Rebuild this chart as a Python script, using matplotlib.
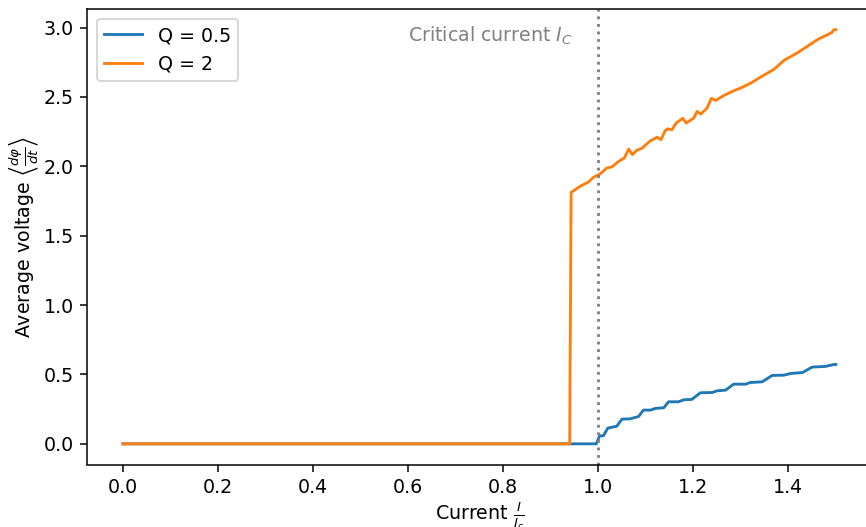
import matplotlib
matplotlib.use("Agg")
import matplotlib.pyplot as plt

# Q = 0.5 series
x_q05 = [0.0, 0.996, 1.003, 1.011, 1.02, 1.039, 1.05, 1.067, 1.085, 1.095, 1.11, 1.12,
         1.138, 1.148, 1.169, 1.18, 1.197, 1.215, 1.24, 1.25, 1.268, 1.285, 1.31, 1.32,
         1.345, 1.366, 1.391, 1.405, 1.43, 1.45, 1.478, 1.496, 1.5]
y_q05 = [0.0, 0.0, 0.058, 0.058, 0.113, 0.127, 0.178, 0.18, 0.197, 0.243, 0.243, 0.255,
         0.26, 0.303, 0.303, 0.317, 0.32, 0.368, 0.37, 0.382, 0.387, 0.43, 0.43, 0.442,
         0.447, 0.493, 0.495, 0.507, 0.514, 0.553, 0.558, 0.572, 0.572]

# Q = 2 series
x_q2 = [0.0, 0.94, 0.943, 0.962, 0.98, 0.99, 1.004, 1.018, 1.029, 1.043, 1.055, 1.064,
        1.072, 1.081, 1.092, 1.108, 1.124, 1.132, 1.141, 1.146, 1.155, 1.164, 1.178,
        1.185, 1.201, 1.208, 1.216, 1.229, 1.238, 1.247, 1.264, 1.282, 1.30, 1.321,
        1.345, 1.37, 1.391, 1.42, 1.44, 1.461, 1.48, 1.492, 1.496, 1.5]
y_q2 = [0.0, 0.0, 1.812, 1.856, 1.888, 1.921, 1.945, 1.988, 1.996, 2.036, 2.06, 2.125,
        2.084, 2.115, 2.13, 2.18, 2.21, 2.192, 2.257, 2.27, 2.264, 2.312, 2.346,
        2.312, 2.348, 2.396, 2.377, 2.42, 2.49, 2.475, 2.51, 2.54, 2.565, 2.60,
        2.65, 2.70, 2.764, 2.82, 2.865, 2.913, 2.945, 2.965, 2.985, 2.985]

labels = ["Q = 0.5", "Q = 2"]
x_ticks = [0.0, 0.2, 0.4, 0.6, 0.8, 1.0, 1.2, 1.4]
y_ticks = [0.0, 0.5, 1.0, 1.5, 2.0, 2.5, 3.0]

DPI = 137
W, H = 866, 527
fig = plt.figure(figsize=(W / DPI, H / DPI), dpi=DPI)
left, right, top, bottom = 87.3, 871.5, 9.0, 464.5
ax = fig.add_axes([left / W, 1 - bottom / H, (right - left) / W, (bottom - top) / H])

ax.plot(x_q05, y_q05, color='#1f77b4', label=labels[0])
ax.plot(x_q2, y_q2, color='#ff7f0e', label=labels[1])
ax.axvline(1.0, color='gray', ls=':')
ax.text(0.6, 2.9, r"Critical current $I_C$", color='gray')

ax.set_xticks(x_ticks)
ax.set_yticks(y_ticks)
ax.set_xlim(-0.075, 1.575)
ax.set_ylim(-0.149, 3.134)
ax.set_xlabel(r"Current $\frac{I}{I_c}$", labelpad=2.0)
ax.set_ylabel(r"Average voltage $\left\langle\frac{d\varphi}{dt}\right\rangle$", labelpad=1.5)
ax.legend(loc='upper left')

fig.savefig("out.png", dpi=DPI)
